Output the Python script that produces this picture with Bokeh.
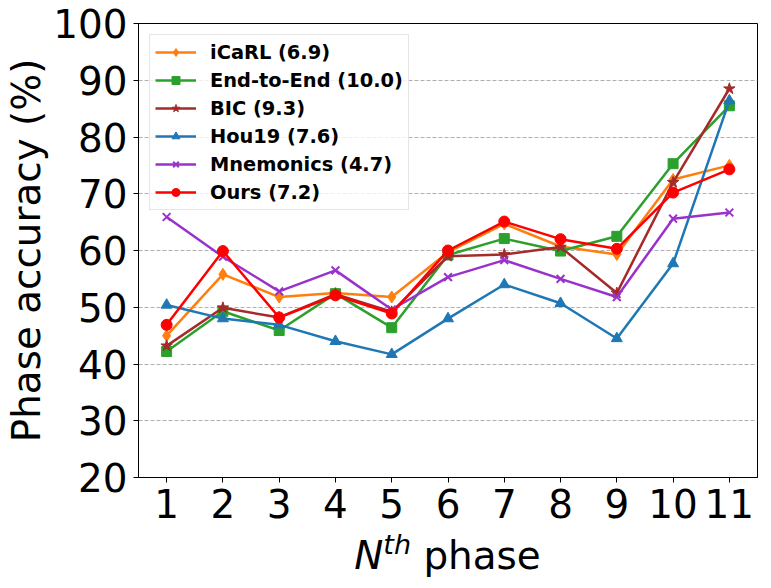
from bokeh.plotting import figure
from bokeh.models import Range1d, FixedTicker, Legend, LegendItem, Div
from bokeh.layouts import column
from bokeh.embed import file_html
from bokeh.resources import INLINE

phases = list(range(1, 12))
icarl = [45.0, 55.8, 51.8, 52.5, 51.8, 59.7, 64.7, 60.7, 59.3, 72.5, 75.0]
e2e = [42.2, 49.3, 45.9, 52.4, 46.4, 59.2, 62.1, 59.9, 62.5, 75.3, 85.5]
bic = [43.2, 49.9, 48.2, 52.3, 49.2, 59.0, 59.3, 60.6, 52.5, 72.0, 88.5]
hou19 = [50.4, 48.0, 46.9, 44.0, 41.7, 48.0, 54.0, 50.7, 44.5, 57.7, 86.4]
mnemonics = [65.9, 58.9, 52.8, 56.5, 49.6, 55.3, 58.3, 55.0, 51.8, 65.6, 66.7]
ours = [46.9, 59.9, 48.2, 52.1, 48.9, 60.0, 65.1, 62.0, 60.3, 70.2, 74.3]

series_names = ["iCaRL (6.9)", "End-to-End (10.0)", "BIC (9.3)", "Hou19 (7.6)",
                "Mnemonics (4.7)", "Ours (7.2)"]
series_values = [icarl, e2e, bic, hou19, mnemonics, ours]
colors = ["#ff7f0e", "#2ca02c", "#a52a2a", "#1f77b4", "#9932cc", "#ff0000"]
markers = ["diamond", "square", "star", "triangle", "x", "circle"]
marker_sizes = [12, 10, 12, 11, 11, 11]

y_ticks = [20, 30, 40, 50, 60, 70, 80, 90, 100]

FONT = "DejaVu Sans"

p = figure(width=763, height=537, output_backend="svg", toolbar_location=None,
           x_range=Range1d(0.5, 11.5), y_range=Range1d(20, 100),
           min_border_left=138, min_border_right=6, min_border_top=23,
           min_border_bottom=60, margin=(0, 0, 0, 0))

p.outline_line_color = "black"
p.outline_line_width = 1
p.outline_line_alpha = 1
p.background_fill_color = "white"

p.xgrid.visible = False
p.ygrid.grid_line_color = "#b0b0b0"
p.ygrid.grid_line_dash = "4 2"
p.ygrid.grid_line_width = 1

p.xaxis.ticker = FixedTicker(ticks=phases)
p.yaxis.ticker = FixedTicker(ticks=y_ticks)
for ax in (p.xaxis, p.yaxis):
    ax.major_label_text_font = FONT
    ax.major_label_text_font_size = "38.9px"
    ax.major_label_text_color = "black"
    ax.axis_line_color = "black"
    ax.major_tick_line_color = "black"
    ax.major_tick_out = 5
    ax.major_tick_in = 0
    ax.minor_tick_line_color = None
p.xaxis.major_label_standoff = 6
p.yaxis.major_label_standoff = 6

p.yaxis.axis_label = "Phase accuracy (%)"
p.yaxis.axis_label_text_font = FONT
p.yaxis.axis_label_text_font_size = "38.9px"
p.yaxis.axis_label_text_font_style = "normal"
p.yaxis.axis_label_text_color = "black"
p.yaxis.axis_label_standoff = 1

items = []
for name, vals, col, mk, ms in zip(series_names, series_values, colors, markers, marker_sizes):
    ln = p.line(phases, vals, line_color=col, line_width=2.5)
    sc = p.scatter(phases, vals, marker=mk, size=ms, fill_color=col, line_color=col,
                   line_width=2 if mk == "x" else 1)
    items.append(LegendItem(label=name, renderers=[ln, sc]))

legend = Legend(items=items, location="top_left", margin=11, padding=5, spacing=4,
                label_standoff=14, glyph_width=41, glyph_height=20, label_height=24,
                label_text_font=FONT, label_text_font_size="19.4px",
                label_text_font_style="bold", label_text_color="black",
                border_line_color="#cccccc", border_line_width=1,
                background_fill_alpha=0.8)
p.add_layout(legend)

xlabel_html = (
    '<div style="width:619px; margin-left:138px; text-align:center; '
    'font-family:\'DejaVu Sans\'; font-size:38.9px; line-height:38px; color:black; '
    'white-space:nowrap;">'
    '<i>N</i><span style="font-size:27px; font-style:italic; position:relative; '
    'top:-15px;">th</span> phase</div>'
)
xlabel = Div(text=xlabel_html, width=763, height=43, margin=(0, 0, 0, 0))

layout = column(p, xlabel, spacing=0)

open("out.html", "w").write(file_html(layout, INLINE))
